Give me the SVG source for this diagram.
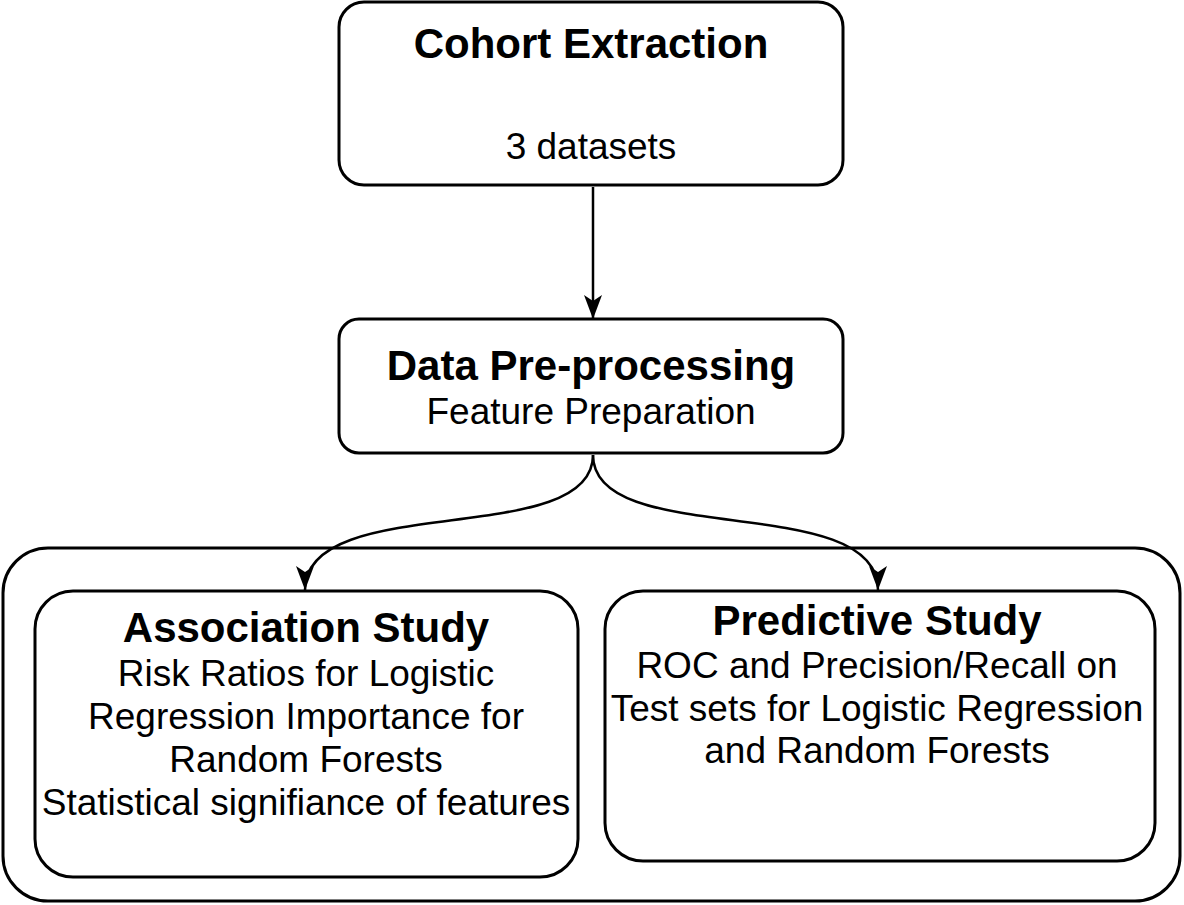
<svg xmlns="http://www.w3.org/2000/svg" width="1184" height="905" viewBox="0 0 1184 905">
<defs>
<style>
.box{fill:#fff;stroke:#000;stroke-width:3}
.edge{fill:none;stroke:#000;stroke-width:2.5}
.t{font-family:"Liberation Sans",Arial,sans-serif;text-anchor:middle;fill:#000}
.h{font-size:42px;font-weight:bold}
.b{font-size:37px}
</style>
<marker id="arr" markerUnits="userSpaceOnUse" markerWidth="26" markerHeight="20" refX="24" refY="9" orient="auto" viewBox="0 0 26 20">
<path d="M0,0 L24,9 L0,18 L6,9 Z" fill="#000"/>
</marker>
</defs>
<rect width="1184" height="905" fill="#fff"/>
<g id="container">
<rect class="box" x="3" y="548" width="1177" height="353" rx="45" ry="45"/>
</g>
<g id="cohort">
<rect class="box" x="339" y="2" width="504" height="183" rx="25" ry="25"/>
<text class="t h" x="591" y="58">Cohort Extraction</text>
<text class="t b" x="591" y="159">3 datasets</text>
</g>
<g id="preprocessing">
<rect class="box" x="339" y="319" width="504" height="134" rx="20" ry="20"/>
<text class="t h" x="591" y="380">Data Pre-processing</text>
<text class="t b" x="591" y="424">Feature Preparation</text>
</g>
<g id="association">
<rect class="box" x="35" y="591" width="543" height="286" rx="38" ry="38"/>
<text class="t h" x="306" y="642">Association Study</text>
<text class="t b" x="306" y="686">Risk Ratios for Logistic</text>
<text class="t b" x="306" y="729">Regression Importance for</text>
<text class="t b" x="306" y="772">Random Forests</text>
<text class="t b" x="306" y="815">Statistical signifiance of features</text>
</g>
<g id="predictive">
<rect class="box" x="605" y="591" width="550" height="270" rx="38" ry="38"/>
<text class="t h" x="877" y="635">Predictive Study</text>
<text class="t b" x="877" y="678">ROC and Precision/Recall on</text>
<text class="t b" x="877" y="721">Test sets for Logistic Regression</text>
<text class="t b" x="877" y="763">and Random Forests</text>
</g>
<g id="connectors">
<path class="edge" d="M593,187 L593,319" marker-end="url(#arr)"/>
<path class="edge" d="M593,455 C593,550 305,490 305,590" marker-end="url(#arr)"/>
<path class="edge" d="M593,455 C593,550 878,490 878,590" marker-end="url(#arr)"/>
</g>
</svg>
